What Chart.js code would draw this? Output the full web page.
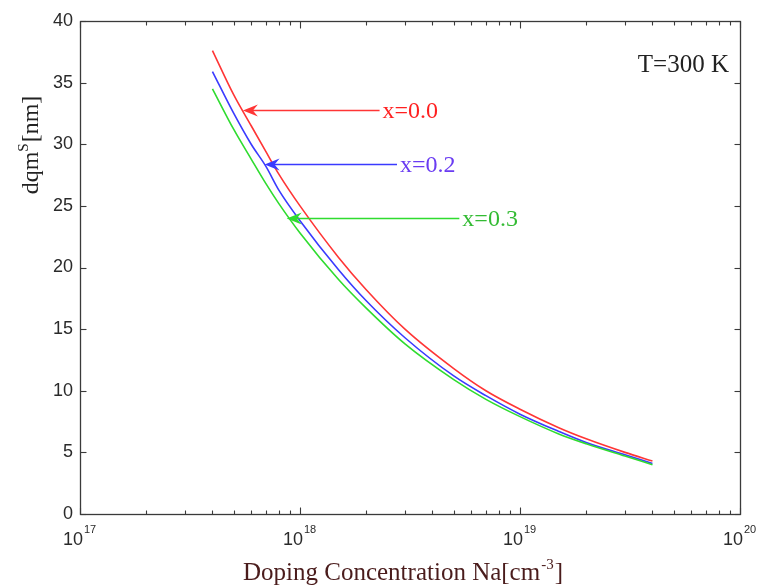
<!DOCTYPE html>
<html><head><meta charset="utf-8">
<script src="https://cdn.jsdelivr.net/npm/chart.js@4.4.1/dist/chart.umd.min.js"></script>
<style>html,body{margin:0;padding:0;background:#fff;overflow:hidden}#wrap{width:759px;height:585px;position:relative}</style>
</head><body><div id="wrap"><canvas id="c" width="759" height="585"></canvas></div>
<script>
// ---- data ----
const dopingNa = [4e17, 5e17, 6e17, 7e17, 8e17, 1e18, 1.5e18, 2e18, 3e18, 5e18, 7e18, 1e19, 1.5e19, 2e19, 3e19, 4e19];
const dqmX00 = [37.6, 34.0, 31.5, 29.4, 27.6, 25.0, 20.8, 18.2, 15.0, 11.8, 10.0, 8.5, 7.0, 6.1, 5.0, 4.3];
const dqmX02 = [35.9, 32.5, 30.0, 28.2, 26.3, 23.8, 19.8, 17.3, 14.3, 11.2, 9.6, 8.1, 6.7, 5.8, 4.8, 4.1];
const dqmX03 = [34.5, 31.2, 28.8, 26.8, 25.2, 22.8, 19.0, 16.7, 13.8, 10.9, 9.3, 7.9, 6.5, 5.7, 4.7, 4.0];
const seriesNames = ['x=0.0', 'x=0.2', 'x=0.3'];
const xTickExponents = [17, 18, 19, 20];
const yTickValues = [0, 5, 10, 15, 20, 25, 30, 35, 40];
const arrowTipNa = [5.5e17, 6.9e17, 8.7e17];
const arrowTipValue = [32.8, 28.4, 24.0];
const arrowTailNa = [2.3e18, 2.76e18, 5.3e18];
const tempLabel = 'T=300 K';

// ---- styles ----
const lineColors = ['#ff3535', '#3a3aff', '#2fdc2f'];
const textColors = ['#ff2020', '#6a3cf2', '#33bb33'];
const SERIF = '"Liberation Serif", "Times New Roman", serif';
const SANS = '"Liberation Sans", Arial, sans-serif';

const seriesValues = [dqmX00, dqmX02, dqmX03];
const datasets = seriesValues.map((vals, i) => ({
  label: seriesNames[i],
  data: dopingNa.map((n, k) => ({x: n, y: vals[k]})),
  borderColor: lineColors[i],
  borderWidth: 1.6,
  pointRadius: 0,
  fill: false,
  cubicInterpolationMode: 'monotone'
})).reverse();

function seg(ctx, x1, y1, x2, y2) { ctx.beginPath(); ctx.moveTo(x1, y1); ctx.lineTo(x2, y2); ctx.stroke(); }

const framePlugin = {
  id: 'frame',
  afterDraw(chart) {
    const {ctx, chartArea: a, scales: {x, y}} = chart;
    ctx.save();
    const L = Math.round(a.left) + 0.5, R = Math.round(a.right) + 0.5, T = Math.round(a.top) + 0.5, B = Math.round(a.bottom) + 0.5;
    ctx.strokeStyle = '#3a3a3a'; ctx.lineWidth = 1.3;
    ctx.strokeRect(L, T, R - L, B - T);
    ctx.lineWidth = 1.1;
    yTickValues.forEach(v => {
      const py = Math.round(y.getPixelForValue(v)) + 0.5;
      seg(ctx, L, py, L + 6, py); seg(ctx, R, py, R - 6, py);
    });
    for (let e = xTickExponents[0]; e <= xTickExponents[xTickExponents.length - 1]; e++) {
      const last = e === xTickExponents[xTickExponents.length - 1];
      for (let m = 1; m <= (last ? 1 : 9); m++) {
        const px = Math.round(x.getPixelForValue(m * Math.pow(10, e))) + 0.5;
        const len = m === 1 ? 7 : 4;
        seg(ctx, px, B, px, B - len); seg(ctx, px, T, px, T + len);
      }
    }
    // x tick labels 10^n
    ctx.fillStyle = '#2a2a2a'; ctx.textBaseline = 'alphabetic';
    xTickExponents.forEach(e => {
      const px = x.getPixelForValue(Math.pow(10, e));
      ctx.font = '18px ' + SANS; ctx.textAlign = 'right';
      ctx.fillText('10', px + 3, 545);
      ctx.font = '11px ' + SANS; ctx.textAlign = 'left';
      ctx.fillText(String(e), px + 4, 533);
    });
    // x title
    ctx.fillStyle = '#4a1c1c';
    ctx.font = '25px ' + SERIF; ctx.textAlign = 'left';
    const xt1 = 'Doping Concentration Na[cm';
    const startX = 243;
    ctx.fillText(xt1, startX, 580);
    let w1 = ctx.measureText(xt1).width;
    ctx.font = '15px ' + SERIF;
    ctx.fillText('-3', startX + w1 + 1, 569);
    const w2 = ctx.measureText('-3').width;
    ctx.font = '25px ' + SERIF;
    ctx.fillText(']', startX + w1 + w2 + 2, 580);
    // y title (rotated)
    ctx.save();
    ctx.fillStyle = '#222';
    ctx.translate(38, 145); ctx.rotate(-Math.PI / 2);
    ctx.font = '24px ' + SERIF;
    const ya = 'dqm', yb = '[nm]';
    const wa = ctx.measureText(ya).width, wb = ctx.measureText(yb).width;
    ctx.font = '15px ' + SERIF;
    const ws = ctx.measureText('S').width;
    const tot = wa + ws + wb + 1;
    let cx = -tot / 2;
    ctx.textAlign = 'left';
    ctx.font = '24px ' + SERIF; ctx.fillText(ya, cx, 0); cx += wa;
    ctx.font = '15px ' + SERIF; ctx.fillText('S', cx, -10); cx += ws + 1;
    ctx.font = '24px ' + SERIF; ctx.fillText(yb, cx, 0);
    ctx.restore();
    // temperature label
    ctx.fillStyle = '#222'; ctx.font = '25px ' + SERIF; ctx.textAlign = 'right';
    ctx.fillText(tempLabel, 729, 72);
    // arrows with labels
    for (let i = 0; i < seriesNames.length; i++) {
      const tx = x.getPixelForValue(arrowTipNa[i]);
      const ty = Math.round(y.getPixelForValue(arrowTipValue[i])) + 0.5;
      const sx = x.getPixelForValue(arrowTailNa[i]);
      ctx.strokeStyle = lineColors[i]; ctx.fillStyle = lineColors[i]; ctx.lineWidth = 1.3;
      seg(ctx, tx + 8, ty, sx, ty);
      ctx.beginPath();
      ctx.moveTo(tx, ty); ctx.lineTo(tx + 15, ty - 6); ctx.lineTo(tx + 10, ty); ctx.lineTo(tx + 15, ty + 6); ctx.closePath();
      ctx.fill();
      ctx.fillStyle = textColors[i]; ctx.font = '24px ' + SERIF; ctx.textAlign = 'left'; ctx.textBaseline = 'middle';
      ctx.fillText(seriesNames[i], sx + 3, ty + 1);
      ctx.textBaseline = 'alphabetic';
    }
    ctx.restore();
  }
};

new Chart(document.getElementById('c'), {
  type: 'line',
  data: {datasets},
  options: {
    responsive: false, animation: false, devicePixelRatio: 1,
    layout: {padding: {top: 21, right: 19, left: 0, bottom: 0}},
    plugins: {legend: {display: false}, tooltip: {enabled: false}},
    scales: {
      x: {
        type: 'logarithmic', min: 1e17, max: 1e20,
        grid: {display: false, drawTicks: false}, border: {display: false},
        ticks: {display: false},
        afterFit: s => { s.height = 71; }
      },
      y: {
        type: 'linear', min: 0, max: 40,
        grid: {display: false, drawTicks: false}, border: {display: false},
        ticks: {stepSize: 5, padding: 7, color: '#2a2a2a', font: {family: 'Liberation Sans', size: 18}},
        afterFit: s => { s.width = 80; }
      }
    }
  },
  plugins: [framePlugin]
});
</script></body></html>
